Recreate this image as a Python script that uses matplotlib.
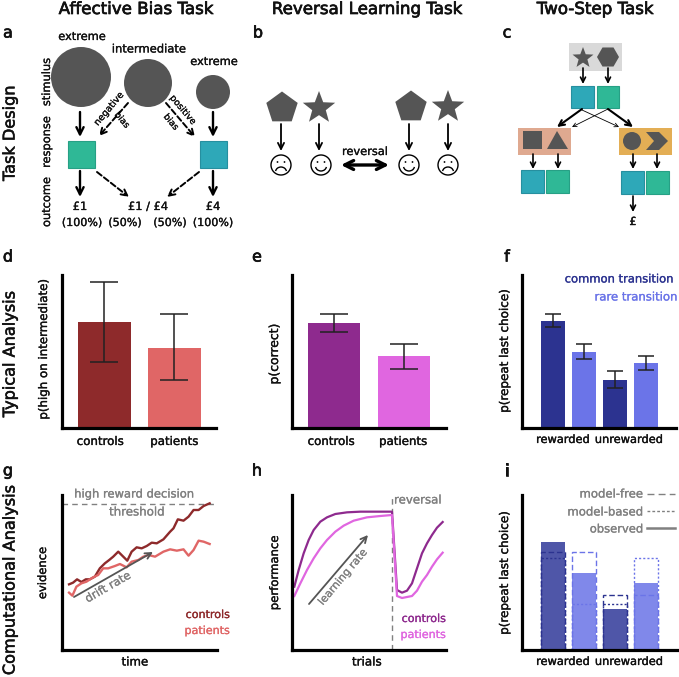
import numpy as np
import matplotlib
matplotlib.use("Agg")
import matplotlib.pyplot as plt
import matplotlib.patheffects as pe
from matplotlib.patches import Circle, Rectangle, Polygon, FancyArrowPatch, Arc

W, H = 679, 677
plt.rcParams['font.family'] = ['DejaVu Sans']

# ---- data
groups = ['controls', 'patients']
d_values = [0.693, 0.523]
d_err_low = [0.43, 0.314]
d_err_high = [0.954, 0.745]
e_values = [0.686, 0.47]
e_err_low = [0.627, 0.386]
e_err_high = [0.745, 0.549]
f_values = [0.699, 0.497, 0.314, 0.425]
f_err_low = [0.66, 0.451, 0.261, 0.379]
f_err_high = [0.745, 0.549, 0.373, 0.471]
transition_groups = ['rewarded', 'unrewarded']
i_observed = [0.70, 0.50, 0.265, 0.43]
i_model_free = [0.63, 0.63, 0.355, 0.355]
i_model_based = [0.595, 0.30, 0.30, 0.595]

g_ctrl_t = [21, 33, 45, 58, 71, 83, 98, 113, 128, 141, 153, 168, 178, 195, 208, 223, 238, 253, 268, 283, 303, 323, 333, 346, 363, 378, 393, 408, 423, 441]
g_ctrl_e = [197, 202, 212, 204, 212, 212, 220, 245, 260, 270, 280, 295, 285, 268, 295, 308, 305, 312, 322, 320, 332, 355, 365, 392, 388, 400, 420, 420, 432, 440]
g_pat_t = [21, 31, 43, 58, 73, 93, 108, 123, 138, 158, 173, 193, 208, 228, 243, 258, 278, 303, 323, 343, 363, 378, 393, 408, 423, 441]
g_pat_e = [172, 163, 190, 200, 205, 218, 225, 245, 245, 252, 258, 248, 265, 270, 280, 285, 280, 295, 302, 298, 302, 283, 300, 328, 325, 318]

h_ctrl_t = [7, 20, 35, 50, 65, 85, 105, 130, 165, 205, 265, 300, 315, 330, 345, 360, 375, 390, 405, 420, 435, 452]
h_ctrl_p = [190, 240, 290, 330, 360, 385, 398, 408, 413, 415, 415, 415, 180, 172, 178, 200, 245, 290, 320, 345, 367, 384]
h_pat_t = [7, 25, 45, 65, 85, 105, 130, 155, 185, 225, 265, 300, 315, 330, 360, 375, 390, 405, 420, 435, 452]
h_pat_p = [162, 200, 240, 275, 305, 330, 355, 373, 388, 398, 402, 405, 162, 156, 162, 178, 205, 225, 250, 272, 292]

DARK = '#555555'
GREY = '#808080'
TEAL = '#2fb896'
BLUE = '#2ea8b8'
INK = '#111111'
THIN = [pe.withStroke(linewidth=0.25, foreground=INK)]

fig = plt.figure(figsize=(W / 100, H / 100), dpi=100, facecolor='white')
ov = fig.add_axes([0, 0, 1, 1], zorder=5)
ov.set_xlim(0, W)
ov.set_ylim(H, 0)
ov.axis('off')
ov.patch.set_alpha(0)


def make_ax(x0, x1, y0, y1):
    ax = fig.add_axes([x0 / W, 1 - y1 / H, (x1 - x0) / W, (y1 - y0) / H])
    ax.spines['top'].set_visible(False)
    ax.spines['right'].set_visible(False)
    ax.spines['left'].set_linewidth(2.3)
    ax.spines['bottom'].set_linewidth(2.3)
    ax.set_yticks([])
    ax.set_xticks([])
    ax.tick_params(length=0, pad=5)
    ax.patch.set_alpha(0)
    return ax


def ticks(ax, pos, labels, size):
    ax.set_xticks(pos, labels, fontsize=size, color=INK)
    for lab in ax.get_xticklabels():
        lab.set_path_effects(THIN)


def ylab(ax, s, x, y, size=8.6):
    ax.set_ylabel(s, fontsize=size, color=INK, path_effects=THIN)
    ax.yaxis.set_label_coords(x, y, transform=ov.transData)


def xlab(ax, s, x, y, size=8.5):
    ax.set_xlabel(s, fontsize=size, color=INK, path_effects=THIN)
    ax.xaxis.set_label_coords(x, y, transform=ov.transData)
    ax.xaxis.label.set_va('center')


def t(x, y, s, size=9, color=INK, rot=0, ha='center', bold=0.2, **k):
    o = ov.text(x, y, s, fontsize=size, color=color, rotation=rot, ha=ha, va='center',
                rotation_mode='anchor', **k)
    if bold:
        o.set_path_effects([pe.withStroke(linewidth=bold, foreground=color)])
    return o


def arrow(x0, y0, x1, y1, lw=1.5, ms=13, ls='-', style='->', color='black'):
    ov.add_patch(FancyArrowPatch((x0, y0), (x1, y1), arrowstyle=style, mutation_scale=ms,
                                 lw=lw, ls=ls, color=color, shrinkA=0, shrinkB=0, zorder=4))


def regular(cx, cy, r, n, rot=-90):
    a = np.deg2rad(rot + np.arange(n) * 360 / n)
    return np.c_[cx + r * np.cos(a), cy + r * np.sin(a)]


def star(cx, cy, r):
    a = np.deg2rad(-90 + np.arange(10) * 36)
    rr = np.where(np.arange(10) % 2 == 0, r, r * 0.42)
    return np.c_[cx + rr * np.cos(a), cy + rr * np.sin(a)]


def shape(v):
    ov.add_patch(Polygon(v, closed=True, fc=DARK, ec='none', zorder=3))


def square(x0, y0, x1, y1, c):
    edge = {TEAL: '#27a085', BLUE: '#268f9f'}[c]
    ov.add_patch(Rectangle((x0, y0), x1 - x0, y1 - y0, fc=c, ec=edge, lw=0.8, zorder=3))


def face(cx, cy, happy):
    ov.add_patch(Circle((cx, cy), 10, fc='white', ec='black', lw=1.0, zorder=3))
    for dx in (-3.5, 3.5):
        ov.add_patch(Circle((cx + dx, cy - 3), 0.9, fc='black', ec='none', zorder=4))
    if happy:
        ov.add_patch(Arc((cx, cy + 1), 11, 10, theta1=10, theta2=170, lw=1.0, color='black', zorder=4))
    else:
        ov.add_patch(Arc((cx, cy + 7), 11, 10, theta1=190, theta2=350, lw=1.0, color='black', zorder=4))


# ---- titles and labels
for x, s in [(136, 'Affective Bias Task'), (367, 'Reversal Learning Task'), (595, 'Two-Step Task')]:
    t(x, 9, s, size=12, bold=0.5)
for x, y, s in [(8, 33, 'a'), (258, 33, 'b'), (507, 33, 'c'), (8, 257, 'd'), (257, 257, 'e'),
                (507, 257, 'f'), (8, 471, 'g'), (257, 471, 'h'), (507, 471, 'i')]:
    t(x, y, s, size=11.5, bold=0.5)
for y, s in [(133, 'Task Design'), (354, 'Typical Analysis'), (580, 'Computational Analysis')]:
    t(10, y, s, size=11.6, rot=90, bold=0.4)

# ---- panel a
for cx, cy, r in [(81, 77, 30), (148, 83, 24), (213, 92, 17)]:
    ov.add_patch(Circle((cx, cy), r, fc=DARK, ec='none', zorder=3))
t(82, 37, 'extreme', 8.2)
t(149, 49, 'intermediate', 8.3)
t(214, 62, 'extreme', 8.2)
t(47, 82, 'stimulus', 8.2, rot=90)
t(47, 142, 'response', 8.2, rot=90)
t(47, 202, 'outcome', 8.2, rot=90)
square(68, 141, 95, 168, TEAL)
square(200, 141, 227, 168, BLUE)
arrow(80, 112, 80, 137, lw=1.7)
arrow(213, 112, 213, 137, lw=1.7)
arrow(80, 171, 80, 197, lw=1.7)
arrow(213, 171, 213, 197, lw=1.7)
for seg in [(128, 103, 99, 136), (166, 103, 195, 137), (97, 172, 129, 197), (199, 172, 167, 197)]:
    arrow(*seg, lw=1.4, ls=(0, (3, 1.5)), ms=11)
t(109, 109, 'negative', 6.7, rot=50)
t(122, 120, 'bias', 6.4, rot=-50)
t(183, 110, 'positive', 6.5, rot=-50)
t(171, 122, 'bias', 6.4, rot=-50)
t(80, 207, '£1', 8.2)
t(148, 207, '£1 / £4', 8.2)
t(213, 207, '£4', 8.2)
for x, s in [(82, '(100%)'), (125, '(50%)'), (170, '(50%)'), (213, '(100%)')]:
    t(x, 223, s, 8)

# ---- panel b
shape(regular(282, 108, 16.5, 5))
shape(star(319, 108, 17))
shape(regular(411, 107, 16.5, 5))
shape(star(448, 107, 17))
for x in (281, 319, 409, 448):
    arrow(x, 124, x, 151, lw=1.3, ms=11)
face(281, 165, False)
face(321, 165, True)
face(409, 165, True)
face(448, 165, False)
t(365, 152, 'reversal', 8.2)
arrow(341, 165, 389, 165, lw=2.4, ms=16, style='<->')

# ---- panel c
ov.add_patch(Rectangle((569, 43), 53, 28, fc='#d9d9d9', ec='none', zorder=1))
ov.add_patch(Rectangle((518, 128), 53, 27, fc='#dfa990', ec='none', zorder=1))
ov.add_patch(Rectangle((619, 128), 53, 27, fc='#e3ae55', ec='none', zorder=1))
shape(star(583, 58, 11))
shape(regular(608, 57, 11, 6, rot=0))
for x in (583, 608):
    arrow(x, 68, x, 84, lw=1.2, ms=9)
square(571, 86, 594, 108, BLUE)
square(597, 86, 619, 108, TEAL)
arrow(582, 109, 557, 127, lw=1.5, ms=10)
arrow(608, 109, 633, 127, lw=1.5, ms=10)
arrow(608, 109, 572, 127, lw=0.6, ms=7)
arrow(582, 110, 619, 127, lw=0.6, ms=7)
ov.add_patch(Rectangle((522.5, 131), 19, 18, fc=DARK, ec='none', zorder=3))
shape([(547, 149), (557, 131), (568, 149)])
ov.add_patch(Circle((632, 141), 9, fc=DARK, ec='none', zorder=3))
shape([(646, 132), (659, 132), (668, 141), (659, 150), (646, 150), (654, 141)])
for x in (533, 558, 633, 657):
    arrow(x, 154, x, 169, lw=1.2, ms=9)
square(521, 170, 544, 193, BLUE)
square(546, 170, 569, 193, TEAL)
square(621, 171, 644, 194, BLUE)
square(646, 171, 669, 194, TEAL)
arrow(633, 196, 633, 212, lw=1.2, ms=9)
t(633, 222, '£', 8, bold=0.3)


def errs(ax, x, lo, hi, cap):
    ax.vlines(x, lo, hi, color='#222222', lw=1.1, zorder=4)
    for y in (lo, hi):
        ax.hlines(y, x - cap, x + cap, color='#222222', lw=1.1, zorder=4)


# ---- panel d
ax = make_ax(62, 216, 275, 428)
ax.bar([0, 1], d_values, width=0.757, color=['#8e2a2b', '#e06666'])
for i in range(2):
    errs(ax, i, d_err_low[i], d_err_high[i], 0.2)
ax.set_xlim(-0.607, 1.593)
ax.set_ylim(0, 1)
ticks(ax, [-0.06, 1], groups, 8.5)
ylab(ax, 'p(high on intermediate)', 50, 349, 8.5)

# ---- panel e
ax = make_ax(292, 446, 275, 428)
ax.bar([0, 1], e_values, width=0.743, color=['#8e2a8e', '#e066e0'])
for i in range(2):
    errs(ax, i, e_err_low[i], e_err_high[i], 0.2)
ax.set_xlim(-0.6, 1.6)
ax.set_ylim(0, 1)
ticks(ax, [-0.04, 0.99], groups, 8.5)
ylab(ax, 'p(correct)', 281, 354, 8.9)

# ---- panel f
ax = make_ax(522, 676, 275, 428)
fc = ['#2c3390', '#6b74e8', '#2c3390', '#6b74e8']
ax.bar(range(4), f_values, width=0.75, color=fc)
for i in range(4):
    errs(ax, i, f_err_low[i], f_err_high[i], 0.27)
ax.set_xlim(-1, 3.97)
ax.set_ylim(0, 1)
ticks(ax, [0.32, 2.45], transition_groups, 8.2)
ylab(ax, 'p(repeat last choice)', 511, 351)
t(619, 279, 'common transition', 8.3, color='#2c3390')
t(636, 297, 'rare transition', 8.4, color='#6b74e8')

# ---- panel g
ax = make_ax(62, 217, 495, 650)
ax.set_xlim(0, 463)
ax.set_ylim(0, 465)
ax.axhline(438, color=GREY, lw=1.0, ls=(0, (4, 3)))
ax.plot(g_ctrl_t, g_ctrl_e, color='#8e2a2b', lw=1.7)
ax.plot(g_pat_t, g_pat_e, color='#e06666', lw=1.7)
ylab(ax, 'evidence', 49, 573, 8.3)
xlab(ax, 'time', 135, 662)
t(134, 494, 'high reward decision', 8.3, color=GREY)
t(137, 512, 'threshold', 8.5, color=GREY)
t(108, 587, 'drift rate', 8.3, color=GREY, rot=30)
arrow(74, 597, 153, 552, lw=1.3, ms=11, color=DARK)
t(230, 615, 'controls', 8, color='#8e2a2b', ha='right')
t(230, 631, 'patients', 8, color='#e06666', ha='right')

# ---- panel h
ax = make_ax(292, 446, 495, 650)
ax.set_xlim(0, 462)
ax.set_ylim(0, 465)
ax.axvline(300, color=GREY, lw=1.0, ls=(0, (4, 3)))
ax.plot(h_ctrl_t, h_ctrl_p, color='#8e2a8e', lw=1.6)
ax.plot(h_pat_t, h_pat_p, color='#e066e0', lw=1.6)
ylab(ax, 'performance', 281, 573, 8.4)
xlab(ax, 'trials', 367, 662, 8.6)
t(418, 500, 'reversal', 8.5, color=GREY)
t(343, 577, 'learning rate', 7.8, color=GREY, rot=50)
arrow(309, 604, 368, 535, lw=1.3, ms=11, color=DARK)
t(446, 619, 'controls', 8, color='#8e2a8e', ha='right')
t(446, 635, 'patients', 8, color='#e066e0', ha='right')

# ---- panel i
ax = make_ax(522, 677, 495, 650)
ic = ['#4f56a8', '#8088ea', '#4f56a8', '#8088ea']
ec = ['#2c3390', '#6b74e8', '#2c3390', '#6b74e8']
ax.bar(range(4), i_observed, width=0.75, color=ic)
ax.bar(range(4), i_model_free, width=0.75, fc='none', ec=ec, lw=1.0, ls=(0, (4, 2)))
ax.bar(range(4), i_model_based, width=0.75, fc='none', ec=ec, lw=1.0, ls=(0, (1.5, 1.5)))
ax.set_xlim(-1, 4)
ax.set_ylim(0, 1)
ticks(ax, [0.32, 2.45], transition_groups, 8.2)
ylab(ax, 'p(repeat last choice)', 511, 573)
t(643, 494, 'model-free', 8.4, color=GREY, ha='right')
t(643, 512, 'model-based', 8.4, color=GREY, ha='right')
t(643, 529, 'observed', 8.3, color=GREY, ha='right')
ov.plot([647, 675], [494, 494], color=GREY, lw=1.0, ls=(0, (5, 3)))
ov.plot([647, 675], [511, 511], color=GREY, lw=1.0, ls=(0, (2, 1.5)))
ov.plot([647, 675], [528, 528], color=GREY, lw=1.8)

ov.set_xlim(0, W)
ov.set_ylim(H, 0)
fig.savefig('out.png', dpi=100)
